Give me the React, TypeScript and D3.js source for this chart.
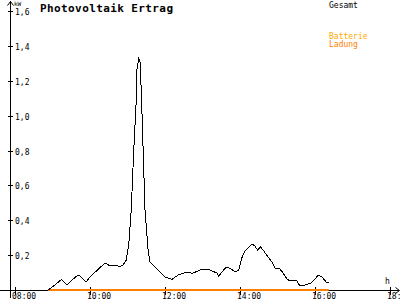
import React from "react";
import * as d3 from "d3";

const times = ["08:53","09:04","09:14","09:23","09:33","09:41","09:44","09:54","10:00","10:24","10:32","10:40","10:48","10:53","10:58","11:02","11:06","11:10","11:14","11:15","11:18","11:20","11:22","11:25","11:28","11:33","11:36","11:41","11:49","12:00","12:11","12:21","12:32","12:45","12:56","13:12","13:23","13:26","13:31","13:38","13:46","13:52","13:58","14:03","14:08","14:13","14:19","14:24","14:28","14:33","14:38","14:45","14:51","14:56","15:04","15:09","15:15","15:20","15:31","15:36","15:44","15:54","16:00","16:05","16:11","16:18","16:22"];
const gesamt = [0,0.029,0.06,0.029,0.063,0.086,0.08,0.046,0.075,0.155,0.138,0.143,0.135,0.143,0.172,0.258,0.459,0.803,1.09,1.262,1.325,1.308,1.147,0.803,0.459,0.229,0.161,0.143,0.115,0.075,0.061,0.086,0.099,0.097,0.115,0.115,0.097,0.08,0.103,0.132,0.12,0.103,0.115,0.184,0.224,0.241,0.264,0.252,0.229,0.247,0.224,0.189,0.161,0.126,0.12,0.097,0.063,0.052,0.052,0.023,0.029,0.04,0.063,0.086,0.075,0.046,0.04];
const batteryTimes = ["08:53","16:22"];
const batteryLadung = [0, 0];
const yTicks = [0.2,0.4,0.6,0.8,1.0,1.2,1.4,1.6];
const xTicks = [8,10,12,14,16,18];
const xTickLabels = ["08:00","10:00","12:00","14:00","16:00","18:"];
const legend = ["Gesamt","Batterie","Ladung"];

const toH = (s: string) => { const [h, m] = s.split(":").map(Number); return h + m / 60; };

export default function App() {
  const x = d3.scaleLinear().domain([8, 18]).range([15, 390]);
  const y = d3.scaleLinear().domain([0, 1.6]).range([290, 11]);
  const line = d3.line<[number, number]>().x(d => x(d[0])).y(d => y(d[1]));
  const pts: [number, number][] = times.map((t, i) => [toH(t), gesamt[i]]);
  const bat: [number, number][] = batteryTimes.map((t, i) => [toH(t), batteryLadung[i]]);
  const mono = "'DejaVu Sans Mono', monospace";
  return (
    <div style={{ position: "fixed", left: 0, top: 0 }}>
      <svg width={400} height={300} style={{ display: "block", background: "#fff" }}>
        <rect width={400} height={300} fill="#fff" />
        <line x1={0} x2={399} y1={290.5} y2={290.5} stroke="#000" strokeWidth={1} shapeRendering="crispEdges" />
        <line x1={10.5} x2={10.5} y1={1} y2={298} stroke="#000" strokeWidth={1} shapeRendering="crispEdges" />
        <path d="M7.5,5.5 L10.5,1.5 L13.5,5.5" fill="none" stroke="#000" strokeWidth={1} />
        <path d="M395.5,287.5 L399.5,290.5 L395.5,293.5" fill="none" stroke="#000" strokeWidth={1} />
        {yTicks.map(t => (
          <g key={t}>
            <line x1={8} x2={13} y1={Math.round(y(t)) + 0.5} y2={Math.round(y(t)) + 0.5} stroke="#000" shapeRendering="crispEdges" />
            <text x={15} y={Math.round(y(t)) + 3.5} fontFamily={mono} fontSize={8} fill="#000">{d3.format(".1f")(t).replace(".", ",")}</text>
          </g>
        ))}
        {xTicks.map((t, i) => (
          <g key={t}>
            <line x1={Math.round(x(t)) + 0.5} x2={Math.round(x(t)) + 0.5} y1={287} y2={295} stroke="#000" shapeRendering="crispEdges" />
            <text x={Math.round(x(t)) - 3} y={299} fontFamily={mono} fontSize={8} fill="#000">{xTickLabels[i]}</text>
          </g>
        ))}
        <text x={14} y={6} fontFamily={mono} fontSize={6} fill="#000">kW</text>
        <text x={385} y={284} fontFamily={mono} fontSize={8} fill="#000">h</text>
        <text x={40} y={12} fontFamily={mono} fontSize={11} fontWeight="bold" fill="#000" textLength={133}>Photovoltaik Ertrag</text>
        <text x={329} y={8} fontFamily={mono} fontSize={8} fill="#000">{legend[0]}</text>
        <text x={329} y={39} fontFamily={mono} fontSize={8} fill="#FFA800">{legend[1]}</text>
        <text x={329} y={47} fontFamily={mono} fontSize={8} fill="#FF8000">{legend[2]}</text>
        <path d={line(bat) || ""} fill="none" stroke="#FF8000" strokeWidth={2} />
        <path d={line(pts) || ""} fill="none" stroke="#000" strokeWidth={1} shapeRendering="crispEdges" />
      </svg>
    </div>
  );
}
